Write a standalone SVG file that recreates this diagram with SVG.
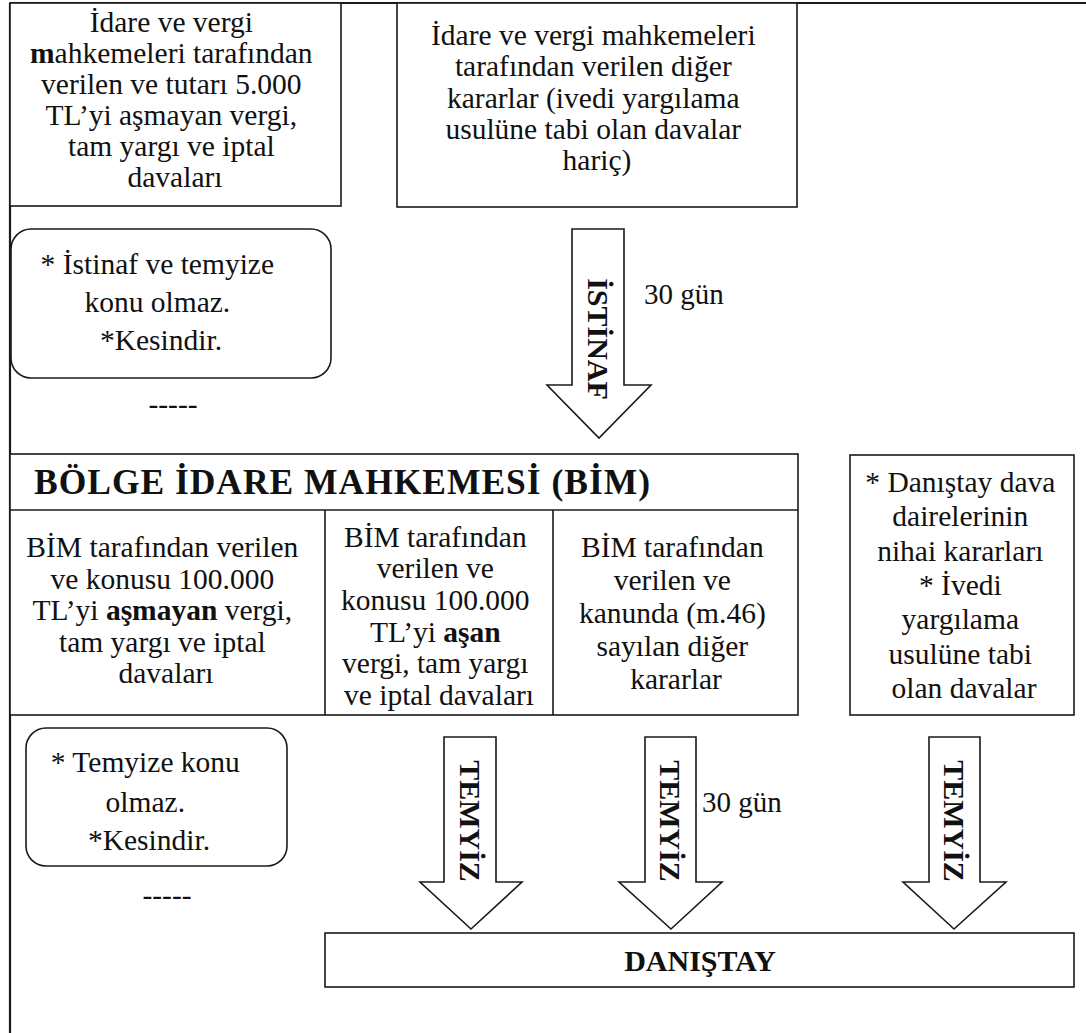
<svg xmlns="http://www.w3.org/2000/svg" width="1086" height="1033" viewBox="0 0 1086 1033">
  <style>
    .bg { fill: #ffffff; }
    .frame { stroke: #1a1a1a; stroke-width: 2.2; fill: none; }
    .box { fill: #ffffff; stroke: #1a1a1a; stroke-width: 1.6; }
    .line { stroke: #1a1a1a; stroke-width: 1.6; fill: none; }
    .arrow { fill: #ffffff; stroke: #1a1a1a; stroke-width: 1.6; stroke-linejoin: miter; }
    .serif, .serif tspan { font-family: "Liberation Serif", "Times New Roman", Times, "DejaVu Serif", serif; fill: #111111; }
    .t { font-size: 29.5px; text-anchor: middle; font-weight: normal; font-style: normal; }
    .b { font-weight: bold; }
    .head { font-size: 30px; font-weight: bold; text-anchor: middle; }
    .title { font-size: 35.5px; font-weight: bold; text-anchor: start; }
    .vlabel { font-size: 30px; font-weight: bold; text-anchor: middle; }
    .side { font-size: 29px; font-weight: normal; }
  </style>

  <rect class="bg" x="0" y="0" width="1086" height="1033"/>

  <!-- page frame: top rule and left rule -->
  <g id="frame">
    <line class="frame" x1="10" y1="3" x2="1086" y2="3"/>
    <line class="frame" x1="10" y1="3" x2="10" y2="1033"/>
  </g>

  <!-- first-instance decisions -->
  <g id="ilk-derece-kesin">
    <rect class="box" x="10" y="3" width="331" height="203"/>
    <text class="serif t">
      <tspan x="175" y="32">İdare ve vergi</tspan>
      <tspan x="175" y="63"><tspan class="b">m</tspan>ahkemeleri tarafından</tspan>
      <tspan x="175" y="94">verilen ve tutarı 5.000</tspan>
      <tspan x="175" y="125">TL’yi aşmayan vergi,</tspan>
      <tspan x="175" y="156">tam yargı ve iptal</tspan>
      <tspan x="175" y="187">davaları</tspan>
    </text>
  </g>

  <g id="ilk-derece-diger">
    <rect class="box" x="397" y="3" width="400" height="204"/>
    <text class="serif t">
      <tspan x="597" y="45">İdare ve vergi mahkemeleri</tspan>
      <tspan x="597" y="76">tarafından verilen diğer</tspan>
      <tspan x="597" y="108">kararlar (ivedi yargılama</tspan>
      <tspan x="597" y="139">usulüne tabi olan davalar</tspan>
      <tspan x="597" y="170">hariç)</tspan>
    </text>
  </g>

  <g id="not-istinaf">
    <rect class="box" x="11" y="229" width="320" height="149" rx="20" ry="20"/>
    <text class="serif t">
      <tspan x="161" y="274">* İstinaf ve temyize</tspan>
      <tspan x="161" y="312">konu olmaz.</tspan>
      <tspan x="161" y="350">*Kesindir.</tspan>
    </text>
    <text class="serif t" x="173" y="414">-----</text>
  </g>

  <!-- regional administrative court -->
  <g id="bim">
    <rect class="box" x="10" y="454" width="788" height="261"/>
    <line class="line" x1="10" y1="510" x2="798" y2="510"/>
    <line class="line" x1="325" y1="510" x2="325" y2="715"/>
    <line class="line" x1="553" y1="510" x2="553" y2="715"/>
    <text class="serif title" x="34" y="494" textLength="616" lengthAdjust="spacing">BÖLGE İDARE MAHKEMESİ (BİM)</text>
  </g>

  <g id="bim-asmayan">
    <text class="serif t">
      <tspan x="166" y="557">BİM tarafından verilen</tspan>
      <tspan x="166" y="589">ve konusu 100.000</tspan>
      <tspan x="166" y="620">TL’yi <tspan class="b">aşmayan</tspan> vergi,</tspan>
      <tspan x="166" y="652">tam yargı ve iptal</tspan>
      <tspan x="166" y="683">davaları</tspan>
    </text>
  </g>

  <g id="bim-asan">
    <text class="serif t">
      <tspan x="439" y="547">BİM tarafından</tspan>
      <tspan x="439" y="578">verilen ve</tspan>
      <tspan x="439" y="610">konusu 100.000</tspan>
      <tspan x="439" y="642">TL’yi <tspan class="b">aşan</tspan></tspan>
      <tspan x="439" y="673">vergi, tam yargı</tspan>
      <tspan x="439" y="705">ve iptal davaları</tspan>
    </text>
  </g>

  <g id="bim-diger">
    <text class="serif t">
      <tspan x="676" y="557">BİM tarafından</tspan>
      <tspan x="676" y="590">verilen ve</tspan>
      <tspan x="676" y="623">kanunda (m.46)</tspan>
      <tspan x="676" y="656">sayılan diğer</tspan>
      <tspan x="676" y="689">kararlar</tspan>
    </text>
  </g>

  <g id="danistay-ilk-derece">
    <rect class="box" x="850" y="455" width="224" height="260"/>
    <text class="serif t">
      <tspan x="964" y="492">* Danıştay dava</tspan>
      <tspan x="964" y="526">dairelerinin</tspan>
      <tspan x="964" y="561">nihai kararları</tspan>
      <tspan x="964" y="595">* İvedi</tspan>
      <tspan x="964" y="629">yargılama</tspan>
      <tspan x="964" y="664">usulüne tabi</tspan>
      <tspan x="964" y="698">olan davalar</tspan>
    </text>
  </g>

  <g id="not-temyiz">
    <rect class="box" x="26" y="728" width="261" height="138" rx="20" ry="20"/>
    <text class="serif t">
      <tspan x="149" y="772">* Temyize konu</tspan>
      <tspan x="149" y="812">olmaz.</tspan>
      <tspan x="149" y="850">*Kesindir.</tspan>
    </text>
    <text class="serif t" x="167" y="905">-----</text>
  </g>

  <!-- Council of State -->
  <g id="danistay">
    <rect class="box" x="325" y="933" width="749" height="54"/>
    <text class="serif head" x="700" y="971">DANIŞTAY</text>
  </g>

  <!-- block arrows -->
  <g id="connectors">
    <g id="istinaf">
      <polygon class="arrow" points="572,229 624,229 624,385 651,385 599,438 547,385 572,385"/>
      <text class="serif vlabel" transform="translate(588,339) rotate(90)">İSTİNAF</text>
      <text class="serif side" x="644" y="304">30 gün</text>
    </g>
    <g id="temyiz-1">
      <polygon class="arrow" points="444,737 496,737 496,882 522,882 471,929 420,882 444,882"/>
      <text class="serif vlabel" transform="translate(460,821) rotate(90)">TEMYİZ</text>
    </g>
    <g id="temyiz-2">
      <polygon class="arrow" points="645,737 696,737 696,882 722,882 671,929 619,882 645,882"/>
      <text class="serif vlabel" transform="translate(660,821) rotate(90)">TEMYİZ</text>
      <text class="serif side" x="702" y="812">30 gün</text>
    </g>
    <g id="temyiz-3">
      <polygon class="arrow" points="929,737 980,737 980,882 1006,882 954,929 903,882 929,882"/>
      <text class="serif vlabel" transform="translate(944,821) rotate(90)">TEMYİZ</text>
    </g>
  </g>
</svg>
